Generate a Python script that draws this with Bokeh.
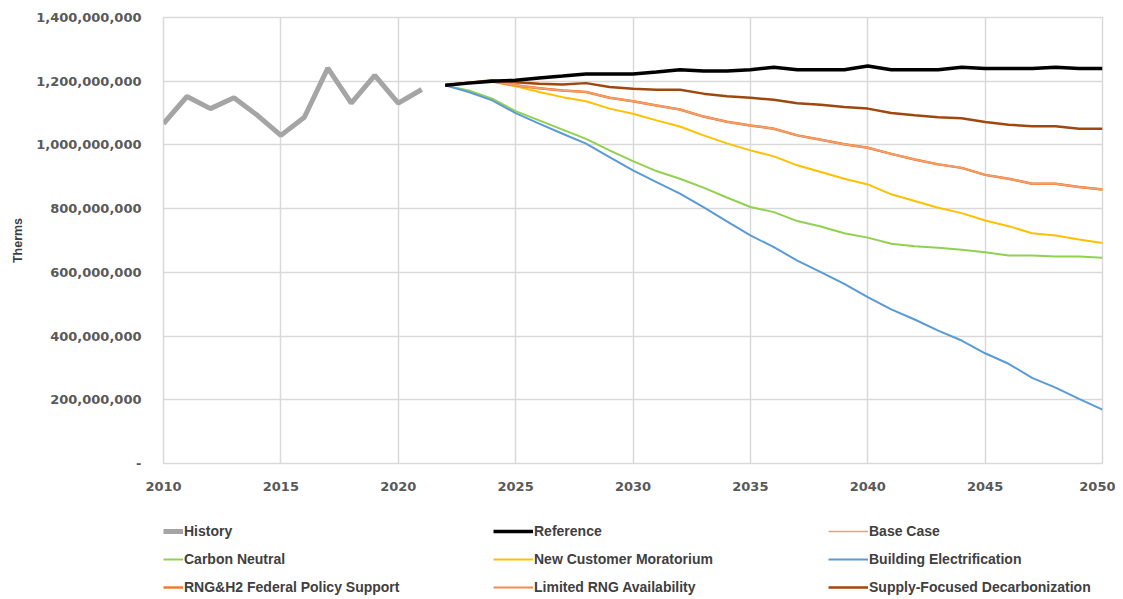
from bokeh.plotting import figure
from bokeh.layouts import column
from bokeh.models import Legend, LegendItem, FixedTicker, NumeralTickFormatter, Range1d
from bokeh.embed import file_html
from bokeh.resources import INLINE

hist_years = list(range(2010, 2022))
history = [1067, 1152, 1114, 1148, 1093, 1030, 1087, 1241, 1131, 1218, 1131, 1174]

years = list(range(2022, 2051))
reference = [1187, 1194, 1200, 1203, 1210, 1216, 1223, 1223, 1223, 1229, 1236, 1232, 1232, 1236, 1244,
             1236, 1236, 1236, 1248, 1236, 1236, 1236, 1244, 1240, 1240, 1240, 1244, 1240, 1240]
base_case = [1187, 1195, 1200, 1187, 1178, 1171, 1166, 1148, 1137, 1124, 1111, 1089, 1073, 1061, 1051,
             1030, 1016, 1002, 991, 972, 954, 939, 928, 906, 894, 878, 878, 868, 860]
carbon_neutral = [1187, 1171, 1145, 1106, 1077, 1048, 1019, 983, 949, 918, 894, 866, 835, 805, 789,
                  761, 744, 723, 709, 690, 682, 677, 671, 663, 653, 653, 650, 650, 646]
moratorium = [1187, 1195, 1198, 1184, 1166, 1150, 1137, 1114, 1098, 1077, 1058, 1030, 1005, 983, 964,
              936, 915, 894, 876, 845, 824, 803, 786, 763, 745, 723, 716, 703, 692]
electrification = [1187, 1166, 1140, 1100, 1067, 1035, 1004, 962, 920, 883, 847, 805, 760, 716, 679,
                   637, 601, 564, 522, 484, 452, 417, 386, 346, 313, 269, 238, 203, 169]
rng_h2 = [1187, 1195, 1200, 1187, 1178, 1171, 1166, 1148, 1137, 1124, 1111, 1089, 1073, 1061, 1051,
          1030, 1016, 1002, 991, 972, 954, 939, 928, 906, 894, 878, 878, 868, 860]
limited_rng = [1187, 1195, 1200, 1187, 1178, 1171, 1166, 1148, 1137, 1124, 1111, 1089, 1073, 1061, 1051,
               1030, 1016, 1002, 991, 972, 954, 939, 928, 906, 894, 878, 878, 868, 860]
supply_focused = [1187, 1195, 1203, 1197, 1192, 1190, 1194, 1182, 1176, 1173, 1173, 1161, 1153, 1148, 1142,
                  1131, 1126, 1119, 1114, 1100, 1093, 1087, 1084, 1072, 1063, 1059, 1059, 1051, 1051]

y_ticks = [0, 200e6, 400e6, 600e6, 800e6, 1000e6, 1200e6, 1400e6]
x_ticks = [2010, 2015, 2020, 2025, 2030, 2035, 2040, 2045, 2050]

M = 1e6
def sc(v):
    return [x * M for x in v]

TICK_FONT = "DejaVu Sans"
FONT = "Liberation Sans"
TXT = "#595959"
GRID = "#D9D9D9"

styles = {
    "History": dict(line_color="#A5A5A5", line_width=5),
    "Reference": dict(line_color="#000000", line_width=3.5),
    "Base Case": dict(line_color="#F4A070", line_width=1.5),
    "Carbon Neutral": dict(line_color="#92D050", line_width=2),
    "New Customer Moratorium": dict(line_color="#FFC000", line_width=2),
    "Building Electrification": dict(line_color="#5B9BD5", line_width=2),
    "RNG&H2 Federal Policy Support": dict(line_color="#ED7D31", line_width=2.5),
    "Limited RNG Availability": dict(line_color="#F08C4E", line_width=2),
    "Supply-Focused Decarbonization": dict(line_color="#9E480E", line_width=2.5),
}

p = figure(width=1115, height=505, output_backend="svg", toolbar_location=None,
           x_range=Range1d(2010, 2050), y_range=Range1d(0, 1400e6),
           min_border_left=163, min_border_right=13, min_border_top=17, min_border_bottom=42)
p.outline_line_color = GRID
p.outline_line_width = 1.5

p.xaxis.ticker = FixedTicker(ticks=x_ticks)
p.yaxis.ticker = FixedTicker(ticks=y_ticks)
p.yaxis.formatter = NumeralTickFormatter(format="0,0")
p.yaxis.major_label_overrides = {0: "-"}
for ax in (p.xaxis, p.yaxis):
    ax.axis_line_color = None
    ax.major_tick_line_color = None
    ax.minor_tick_line_color = None
    ax.major_label_text_font = TICK_FONT
    ax.major_label_text_font_style = "bold"
    ax.major_label_text_font_size = "13px"
    ax.major_label_text_color = TXT
p.yaxis.major_label_standoff = 16
p.xaxis.major_label_standoff = 12
p.yaxis.axis_label = "Therms"
p.yaxis.axis_label_text_font = FONT
p.yaxis.axis_label_text_font_style = "bold"
p.yaxis.axis_label_text_font_size = "12.5px"
p.yaxis.axis_label_text_color = "#404040"
p.yaxis.axis_label_standoff = 8

p.xgrid.grid_line_color = GRID
p.ygrid.grid_line_color = GRID
p.xgrid.grid_line_width = 1.5
p.ygrid.grid_line_width = 1.5

p.line(hist_years, sc(history), **styles["History"])
p.line(years, sc(carbon_neutral), **styles["Carbon Neutral"])
p.line(years, sc(electrification), **styles["Building Electrification"])
p.line(years, sc(moratorium), **styles["New Customer Moratorium"])
p.line(years, sc(limited_rng), **styles["Limited RNG Availability"])
p.line(years, sc(rng_h2), **styles["RNG&H2 Federal Policy Support"])
p.line(years, sc(base_case), **styles["Base Case"])
p.line(years, sc(supply_focused), **styles["Supply-Focused Decarbonization"])
p.line(years, sc(reference), **styles["Reference"])

# legend panel (its frame is aligned with the chart frame)
lp = figure(width=1115, height=94, output_backend="svg", toolbar_location=None,
            x_range=Range1d(0, 1), y_range=Range1d(0, 1),
            min_border_left=163, min_border_right=13, min_border_top=0, min_border_bottom=0)
lp.axis.visible = False
lp.grid.visible = False
lp.outline_line_color = None

cols = [
    ["History", "Carbon Neutral", "RNG&H2 Federal Policy Support"],
    ["Reference", "New Customer Moratorium", "Limited RNG Availability"],
    ["Base Case", "Building Electrification", "Supply-Focused Decarbonization"],
]
xs = [0, 330, 665]
gws = [20, 40, 40]
nan = float("nan")
for xoff, gw, col in zip(xs, gws, cols):
    items = []
    for name in col:
        r = lp.line(x=[nan], y=[nan], **styles[name])
        items.append(LegendItem(label=name, renderers=[r]))
    lg = Legend(items=items, location=(xoff, 2), orientation="vertical",
                glyph_width=gw, glyph_height=20, label_height=20, spacing=8,
                label_standoff=1, padding=0, margin=0,
                border_line_color=None, background_fill_alpha=0,
                label_text_font=FONT, label_text_font_style="bold",
                label_text_font_size="14px", label_text_color="#404040")
    lp.add_layout(lg, "center")

open("out.html", "w").write(file_html(column(p, lp, spacing=0), INLINE))
